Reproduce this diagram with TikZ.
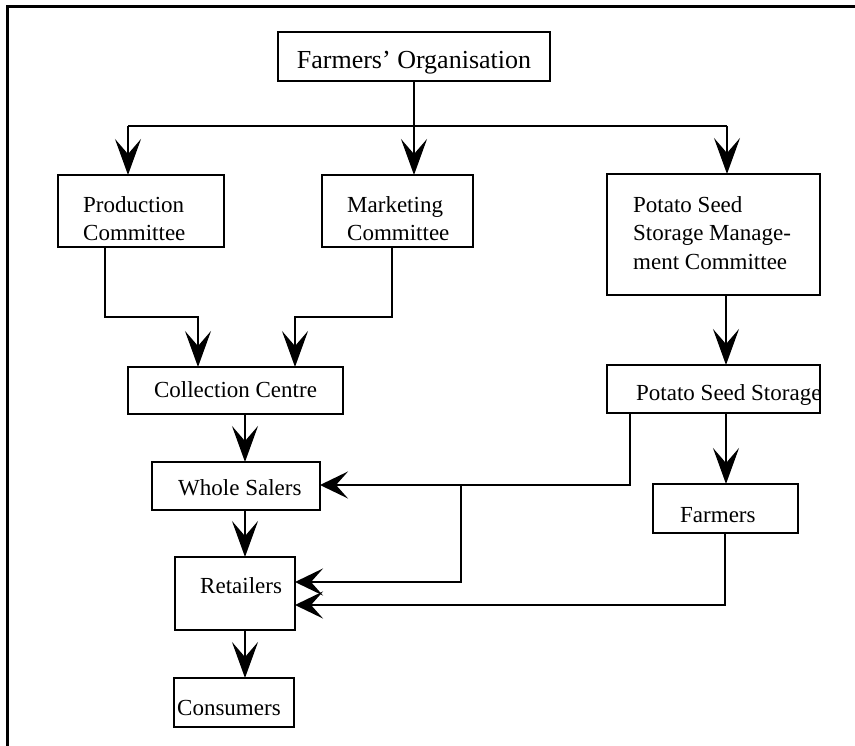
\documentclass[tikz,border=0pt]{standalone}
\usepackage{fontspec}
\setmainfont{Liberation Serif}
\usetikzlibrary{arrows.meta}
\begin{document}
\begin{tikzpicture}[x=1pt,y=-1pt,
  box/.style={draw, line width=2.6pt, inner sep=0pt, outer sep=0pt, anchor=north west},
  txt/.style={inner sep=0pt, font=\fontsize{23}{28.5}\selectfont, align=left},
  ln/.style={line width=2pt},
  va/.style={ln, -{Stealth[length=36pt,width=26pt,inset=15pt]}},
  ha/.style={ln, -{Stealth[length=28pt,width=27pt,inset=12pt]}}]
\useasboundingbox (0,0) rectangle (855,746);
\draw[line width=3pt] (855,7) -- (7,7) -- (7,746);

% texts
\node[txt, anchor=base, font=\fontsize{26}{30}\selectfont] (orgt) at (414,69) {Farmers' Organisation};
\node[txt, anchor=north west] (prodt) at (83,196) {Production\\Committee};
\node[txt, anchor=north west] (mktt) at (347,196) {Marketing\\Committee};
\node[txt, anchor=north west] (pssmt) at (633,196) {Potato Seed\\Storage Manage-\\ment Committee};
\node[txt, anchor=base] (collt) at (235.5,398) {Collection Centre};
\node[txt, anchor=base west] (psst) at (636,400) {Potato Seed Storage};
\node[txt, anchor=base west] (wholet) at (178,495) {Whole Salers};
\node[txt, anchor=base west] (rett) at (200,593) {Retailers};
\node[txt, anchor=base west] (const) at (177,715) {Consumers};
\node[txt, anchor=base west] (farmt) at (680,522) {Farmers};

% boxes
\node[box, minimum width=272pt, minimum height=49pt] (org) at (278,32) {};
\node[box, minimum width=166pt, minimum height=72pt] (prod) at (58,175) {};
\node[box, minimum width=151pt, minimum height=72pt] (mkt) at (322,175) {};
\node[box, minimum width=213pt, minimum height=121pt] (pssm) at (607,174) {};
\node[box, minimum width=215pt, minimum height=47pt] (coll) at (128,367) {};
\node[box, minimum width=213pt, minimum height=48pt] (pss) at (607,365) {};
\node[box, minimum width=168pt, minimum height=48pt] (whole) at (152,462) {};
\node[box, minimum width=120pt, minimum height=73pt] (ret) at (175,557) {};
\node[box, minimum width=120pt, minimum height=49pt] (cons) at (174,678) {};
\node[box, minimum width=145pt, minimum height=49pt] (farm) at (653,484) {};

% connectors
\coordinate (split) at (414,126);
\coordinate (cp) at (128,126);
\coordinate (cs) at (727,126);
\draw[ln] (org.south) -- (split);
\draw[ln] (cp) -- (cs);
\draw[va] (cp) -- (cp |- prod.north);
\draw[va] (split) -- (split |- mkt.north);
\draw[va] (cs) -- (cs |- pssm.north);

\coordinate (pa) at (105,317);
\coordinate (pb) at (198,317);
\draw[va] (pa |- prod.south) -- (pa) -- (pb) -- (pb |- coll.north);
\coordinate (ma) at (392,317);
\coordinate (mb) at (295,317);
\draw[va] (ma |- mkt.south) -- (ma) -- (mb) -- (mb |- coll.north);

\coordinate (sv) at (726,330);
\draw[va] (sv |- pssm.south) -- (sv |- pss.north);
\draw[va] (sv |- pss.south) -- (sv |- farm.north);

\coordinate (cv) at (245,440);
\draw[va] (cv |- coll.south) -- (cv |- whole.north);
\draw[va] (cv |- whole.south) -- (cv |- ret.north);
\draw[va] (cv |- ret.south) -- (cv |- cons.north);

\coordinate (q1) at (630,485);
\draw[ha] (q1 |- pss.south) -- (q1) -- (q1 -| whole.east);
\coordinate (q2) at (461,485);
\coordinate (q3) at (461,582);
\draw[ha] (q2) -- (q3) -- (q3 -| ret.east);
\coordinate (f1) at (725,605);
\draw[ha] (f1 |- farm.south) -- (f1) -- (f1 -| ret.east);
\end{tikzpicture}
\end{document}
